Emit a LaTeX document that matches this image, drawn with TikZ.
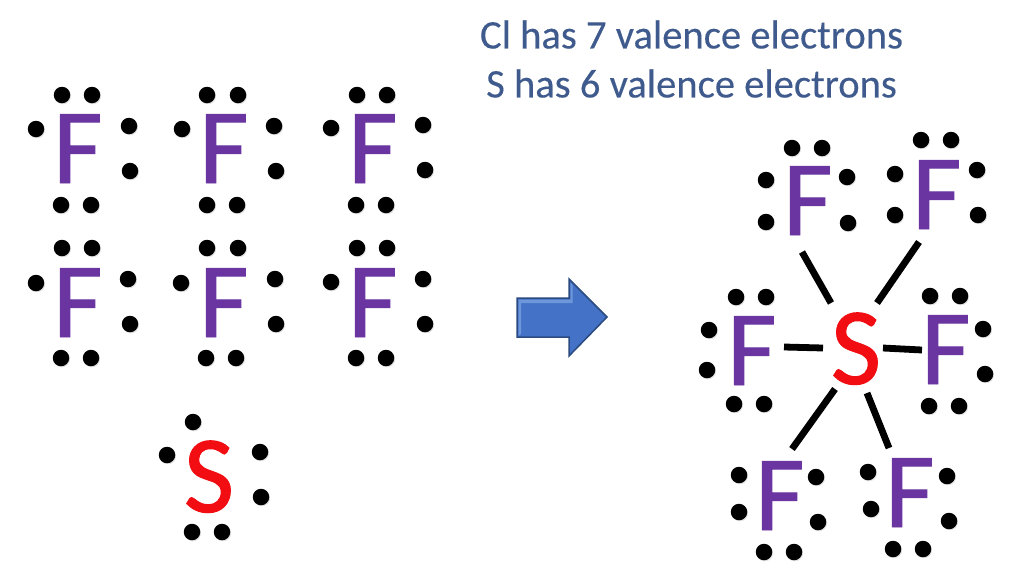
\documentclass[tikz,border=0pt]{standalone}
\usepackage{fontspec}
\setmainfont{Carlito}
\newfontfamily\heavyfont[FakeBold=0.9]{Carlito}
\newfontfamily\titlefont[FakeBold=0.25]{Carlito}
\usetikzlibrary{shadows}
\definecolor{fpurple}{HTML}{6A35A0}
\definecolor{sred}{HTML}{F20D12}
\definecolor{titleblue}{HTML}{3F5A8C}
\definecolor{arrowblue}{HTML}{4472C6}
\definecolor{arrowedge}{HTML}{2B4A80}
\definecolor{arrowlight}{HTML}{6E97DA}
\tikzset{
  x=1pt,y=-1pt,
  dot/.style={circle,fill=black,minimum size=16.5pt,inner sep=0pt,
    drop shadow={shadow xshift=.8pt,shadow yshift=-1pt,opacity=.25}},
  fatom/.style={anchor=base,inner sep=0pt,xshift=-1.2pt,text=fpurple,font=\heavyfont\fontsize{107}{107}\selectfont},
  satom/.style={anchor=base,inner sep=0pt,text=sred,font=\heavyfont\fontsize{110}{110}\selectfont},
  bond/.style={draw=black,line width=6.8pt},
  titletext/.style={inner sep=0pt,text=titleblue,font=\titlefont\fontsize{40.6}{40.6}\selectfont},
}
\newcommand{\lewisdots}[2]{%
  \foreach \p [count=\i] in {#2} {\node[dot] (#1-d\i) at \p {};}%
}
\begin{document}
\begin{tikzpicture}
\useasboundingbox (0,0) rectangle (1024,584);
\fill[white] (0,0) rectangle (1024,584);
% title
\node[titletext] (t1) at (691.5,34.5) {Cl has 7 valence electrons};
\node[titletext] (t2) at (691.5,83.5) {S has 6 valence electrons};
% reactants
\node[fatom] (a1) at (79,183) {F};
\lewisdots{a1}{(62,95),(92,95),(36,129),(129,126),(130,171),(61,205),(91,205)}
\node[fatom] (a2) at (225,183) {F};
\lewisdots{a2}{(207,95),(238,95),(182,129),(274,126),(276,171),(207,205),(237,205)}
\node[fatom] (a3) at (374,183) {F};
\lewisdots{a3}{(357,95),(387,95),(331,128),(423,125),(425,170),(356,205),(386,205)}
\node[fatom] (a4) at (79,337) {F};
\lewisdots{a4}{(62,248),(92,248),(36,283),(128,279),(130,324),(61,358),(91,358)}
\node[fatom] (a5) at (225,337) {F};
\lewisdots{a5}{(207,248),(238,248),(181,283),(275,279),(276,324),(206,358),(236,358)}
\node[fatom] (a6) at (374,337) {F};
\lewisdots{a6}{(357,248),(387,248),(331,282),(423,279),(425,324),(356,358),(386,358)}
\node[satom] (s0) at (209,512) {S};
\lewisdots{s0}{(193,422),(167,455),(260,452),(261,497),(192,532),(222,532)}
% arrow
\path[fill=arrowblue,draw=arrowedge,line width=1.5pt,line join=miter]
  (517,298) -- (569,298) -- (569,279) -- (607,317) -- (569,356) -- (569,337) -- (517,337) -- cycle;
\fill[arrowlight] (518.5,299.5) -- (570.5,299.5) -- (570.5,282.5) -- (572.5,285) -- (572.5,303) -- (521,303) -- (521,334) -- (518.5,336) -- cycle;
% product
\node[satom] (S) at (856,384) {S};
\node[fatom] (p1) at (809,235) {F};
\lewisdots{p1}{(792,148),(822,148),(766,180),(766,222),(847,177),(848,223)}
\node[fatom] (p2) at (938,229) {F};
\lewisdots{p2}{(921,140),(951,140),(895,174),(895,215),(977,170),(978,215)}
\node[fatom] (p3) at (753,385) {F};
\lewisdots{p3}{(736,297),(766,297),(709,330),(707,370),(734,404),(764,404)}
\node[fatom] (p4) at (947,384) {F};
\lewisdots{p4}{(930,296),(960,296),(983,329),(985,374),(929,406),(959,406)}
\node[fatom] (p5) at (781,530) {F};
\lewisdots{p5}{(739,475),(739,512),(816,477),(818,522),(764,552),(794,552)}
\node[fatom] (p6) at (911,527) {F};
\lewisdots{p6}{(868,472),(871,509),(947,476),(949,521),(893,549),(923,549)}
% bond ends
\coordinate (b1a) at (831,303); \coordinate (b1b) at (802,252);
\coordinate (b2a) at (877,303); \coordinate (b2b) at (919,242);
\coordinate (b3a) at (823,348); \coordinate (b3b) at (784,347);
\coordinate (b4a) at (883,348); \coordinate (b4b) at (922,350);
\coordinate (b5a) at (835,389); \coordinate (b5b) at (792,449);
\coordinate (b6a) at (867,393); \coordinate (b6b) at (889,448);
\foreach \i in {1,...,6} {\draw[bond] (b\i a) -- (b\i b);}
\end{tikzpicture}
\end{document}
